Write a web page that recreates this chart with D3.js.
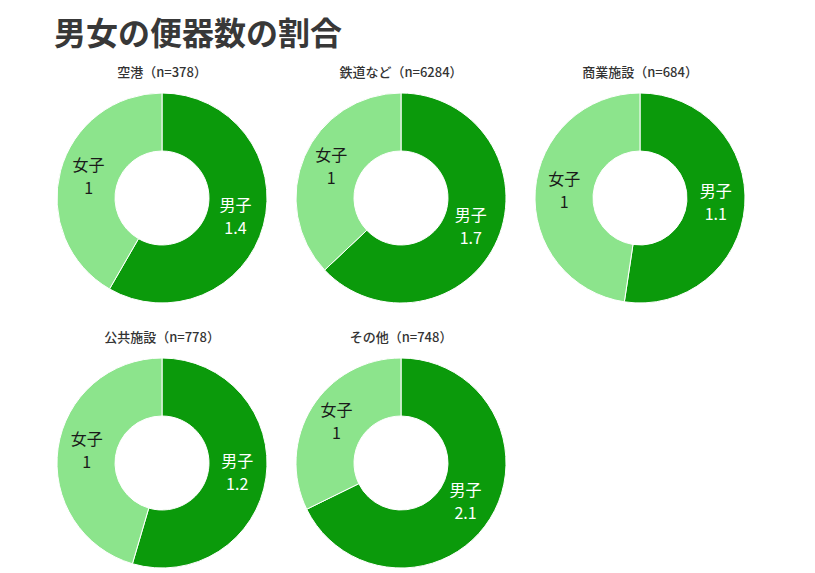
<!DOCTYPE html>
<html>
<head>
<meta charset="utf-8">
<script src="https://cdn.jsdelivr.net/npm/d3@7"></script>
<style>
body { margin:0; background:#fff; }
text { font-family:"Noto Sans CJK JP", "Noto Sans", sans-serif; }
</style>
</head>
<body>
<div id="chart"></div>
<script>
// data for the donuts
var categories = ["空港", "鉄道など", "商業施設", "公共施設", "その他"];
var counts = [378, 6284, 684, 778, 748];
var maleValues = [1.4, 1.7, 1.1, 1.2, 2.1];
var femaleValues = [1, 1, 1, 1, 1];
var sexLabels = ["男子", "女子"];

var width = 815, height = 573;
var outerR = 105, innerR = 47;
var colors = {"男子":"#0b9a0b", "女子":"#8ce48c"};
var textColors = {"男子":"#ffffff", "女子":"#1a1a1a"};

// grid positions for the panels
var col = d3.scaleLinear().domain([0, 2]).range([162, 640]);
var row = d3.scaleLinear().domain([0, 1]).range([198, 463]);

var svg = d3.select("#chart").append("svg")
    .attr("width", width)
    .attr("height", height);

svg.append("text")
    .attr("x", 54)
    .attr("y", 45)
    .attr("font-size", 32)
    .attr("font-weight", "bold")
    .attr("fill", "#383838")
    .text("男女の便器数の割合");

var pie = d3.pie().sort(null).value(d => d.value);
var arc = d3.arc().innerRadius(innerR).outerRadius(outerR);

var panels = categories.map(function(c, i){
    return {name:c, n:counts[i], slices:[
        {sex:sexLabels[0], value:maleValues[i]},
        {sex:sexLabels[1], value:femaleValues[i]}
    ], cx:col(i % 3), cy:row(Math.floor(i / 3))};
});

var g = svg.selectAll("g.panel")
    .data(panels).enter()
    .append("g")
    .attr("class", "panel")
    .attr("transform", d => "translate(" + d.cx + "," + d.cy + ")");

g.append("text")
    .attr("y", -outerR - 16)
    .attr("text-anchor", "middle")
    .attr("font-size", 13)
    .attr("font-weight", 500)
    .attr("fill", "#333")
    .text(d => d.name + "（n=" + d.n + "）");

var slices = g.selectAll("g.slice")
    .data(d => pie(d.slices)).enter()
    .append("g")
    .attr("class", "slice");

slices.append("path")
    .attr("d", arc)
    .attr("fill", d => colors[d.data.sex])
    .attr("stroke", "#fff")
    .attr("stroke-width", 1);

// two-line label at the arc centroid
var lab = slices.append("g")
    .attr("transform", d => "translate(" + arc.centroid(d) + ")")
    .attr("text-anchor", "middle")
    .attr("font-size", 16)
    .attr("fill", d => textColors[d.data.sex]);

lab.append("text")
    .attr("y", -7)
    .text(d => d.data.sex);

lab.append("text")
    .attr("y", 16)
    .text(d => d.data.value);
</script>
</body>
</html>
